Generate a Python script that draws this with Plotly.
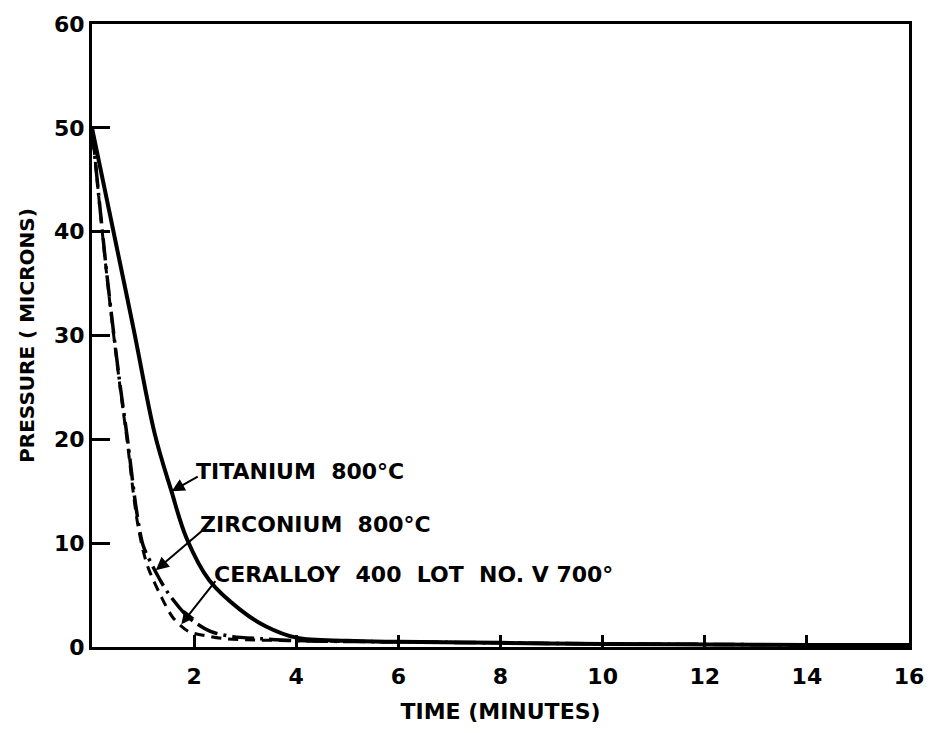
import plotly.graph_objects as go

# ---- data ----
ti_time = [0, 0.4, 0.82, 1.23, 1.55, 1.85, 2.3, 2.9, 3.4, 4.0, 5, 6, 8, 10, 12, 14, 16]
ti_pres = [50, 40.5, 30.5, 20.5, 15.1, 10.5, 6.4, 3.6, 2.0, 0.9, 0.6, 0.5, 0.4, 0.3, 0.25, 0.2, 0.2]

zr_time = [0, 0.3, 0.54, 0.69, 0.87, 1.0, 1.24, 1.49, 1.88, 2.32, 2.76, 3.3, 4.0, 6, 8, 10, 12, 14, 16]
zr_pres = [50, 35.5, 25.6, 20.2, 13.2, 9.8, 7.3, 5.2, 2.9, 1.5, 1.0, 0.8, 0.6, 0.5, 0.4, 0.3, 0.25, 0.2, 0.2]

ce_time = [0, 0.3, 0.54, 0.69, 0.87, 1.0, 1.11, 1.36, 1.59, 1.89, 2.33, 2.6, 3.0, 4.0, 6, 8, 10, 12, 14, 16]
ce_pres = [50, 35.3, 25.4, 19.8, 12.6, 9.3, 7.5, 4.8, 2.8, 1.5, 1.0, 0.8, 0.7, 0.6, 0.5, 0.4, 0.3, 0.25, 0.2, 0.2]

x_ticks = [2, 4, 6, 8, 10, 12, 14, 16]
y_ticks = [0, 10, 20, 30, 40, 50, 60]

labels = ["TITANIUM\u00a0 800°C", "ZIRCONIUM\u00a0 800°C", "CERALLOY\u00a0 400\u00a0 LOT\u00a0 NO. V 700°"]
label_pos = [(2.0, 16.9), (2.08, 11.8), (2.35, 7.0)]
arrow_tail = [(2.1, 16.5), (2.18, 11.3), (2.44, 6.5)]
arrow_head = [(1.56, 15.0), (1.25, 7.4), (1.75, 2.2)]

FONT = "DejaVu Sans"

fig = go.Figure()
fig.add_trace(go.Scatter(x=ti_time, y=ti_pres, mode="lines", name="TITANIUM",
                         line=dict(color="black", width=4, shape="spline", smoothing=1.0)))
fig.add_trace(go.Scatter(x=zr_time, y=zr_pres, mode="lines", name="ZIRCONIUM",
                         line=dict(color="black", width=3.5, shape="spline", smoothing=0.8,
                                   dash="22px,6px,3px,6px")))
fig.add_trace(go.Scatter(x=ce_time, y=ce_pres, mode="lines", name="CERALLOY",
                         line=dict(color="black", width=3, shape="spline", smoothing=0.8,
                                   dash="10px,7px")))

for txt, (lx, ly) in zip(labels, label_pos):
    fig.add_annotation(x=lx, y=ly, text=txt, showarrow=False, xanchor="left", yanchor="middle",
                       font=dict(family=FONT, size=22, color="black", weight="bold"))

for (tx, ty), (hx, hy) in zip(arrow_tail, arrow_head):
    fig.add_annotation(x=hx, y=hy, ax=tx, ay=ty, axref="x", ayref="y", xref="x", yref="y",
                       text="", showarrow=True, arrowhead=2, arrowsize=1.3, arrowwidth=2,
                       arrowcolor="black", standoff=0, startstandoff=0)

fig.update_layout(
    width=936, height=733, autosize=False,
    margin=dict(l=92, r=18, t=24, b=85),
    paper_bgcolor="white", plot_bgcolor="white",
    showlegend=False,
    font=dict(family=FONT, color="black", weight="bold"),
)
fig.update_xaxes(
    range=[0, 16], tickvals=x_ticks, ticktext=[str(v) for v in x_ticks],
    showgrid=False, zeroline=False, showline=True, linecolor="black", linewidth=3, mirror=True,
    ticks="inside", ticklen=12, tickwidth=2.5, tickcolor="black", ticklabeloverflow="allow",
    ticklabelstandoff=8,
    tickfont=dict(family=FONT, size=22, color="black", weight="bold"),
    title=dict(text="TIME (MINUTES)", font=dict(family=FONT, size=22, color="black", weight="bold"), standoff=16),
)
fig.update_yaxes(
    range=[0, 60], tickvals=y_ticks, ticktext=[str(v) for v in y_ticks],
    showgrid=False, zeroline=False, showline=True, linecolor="black", linewidth=3, mirror=True,
    ticks="inside", ticklen=18, tickwidth=2.5, tickcolor="black", ticklabeloverflow="allow",
    tickfont=dict(family=FONT, size=22, color="black", weight="bold"),
    title=dict(text="PRESSURE ( MICRONS)", font=dict(family=FONT, size=20, color="black", weight="bold"), standoff=14),
)

fig.write_html("out.html", config={"displayModeBar": False},
               post_script="document.body.style.margin='0';document.body.style.overflow='hidden';")
